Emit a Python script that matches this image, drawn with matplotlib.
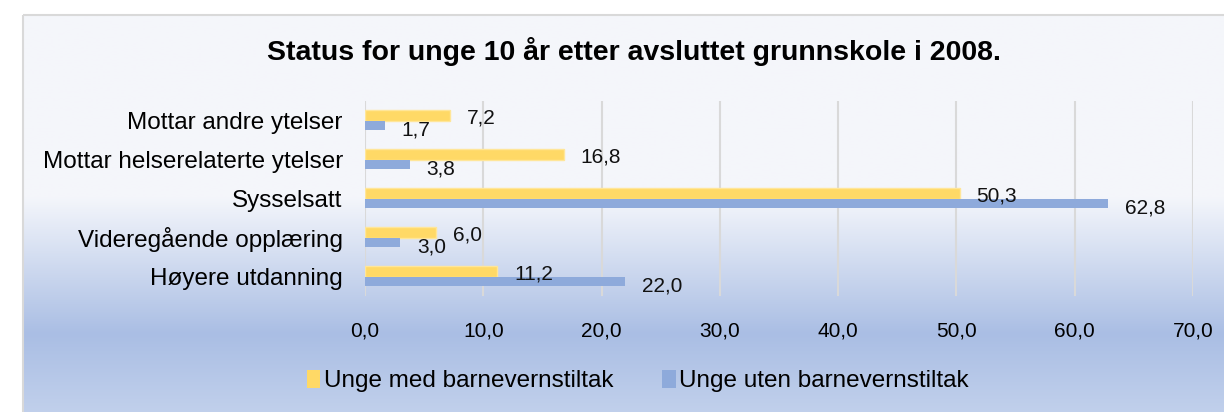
import matplotlib
matplotlib.use("Agg")
import matplotlib.pyplot as plt
import numpy as np
from matplotlib.colors import to_rgb
from matplotlib.patches import Rectangle, Patch

categories = ["Høyere utdanning", "Videregående opplæring", "Sysselsatt",
              "Mottar helserelaterte ytelser", "Mottar andre ytelser"]
med_tiltak = [11.2, 6.0, 50.3, 16.8, 7.2]
uten_tiltak = [22.0, 3.0, 62.8, 3.8, 1.7]
series_names = ["Unge med barnevernstiltak", "Unge uten barnevernstiltak"]
title = "Status for unge 10 år etter avsluttet grunnskole i 2008."
xticks = [0, 10, 20, 30, 40, 50, 60, 70]

YELLOW = "#ffd966"
BLUE = "#8eaadb"

plt.rcParams['font.family'] = ['Liberation Sans', 'DejaVu Sans']

W, H = 1224, 412
fig = plt.figure(figsize=(W / 100, H / 100), dpi=100)
fig.patch.set_facecolor("white")

# background gradient panel
bg = fig.add_axes([0, 0, 1, 1], zorder=-10)
bg.axis("off")
stops = [(15, "#f5f6fa"), (195, "#f4f6fb"), (330, "#aabee4"), (412, "#c2d1ec")]
rows = np.arange(15, H + 1)
sy = [s[0] for s in stops]
cols = np.array([to_rgb(s[1]) for s in stops])
grad = np.stack([np.interp(rows, sy, cols[:, k]) for k in range(3)], axis=-1)
grad = grad[:, None, :].repeat(2, axis=1)
bg.imshow(grad, extent=[23, W + 5, H + 5, 15], aspect="auto", interpolation="bilinear")
bg.add_patch(Rectangle((23, 15), W, H, fill=False, edgecolor="#d9d9d9", lw=1.5))
bg.set_xlim(0, W)
bg.set_ylim(H, 0)

# main axes
ax = fig.add_axes([365 / W, (H - 296) / H, (1193 - 365) / W, (296 - 101) / H])
ax.set_facecolor("none")
y = np.arange(len(categories))
h = 0.26
ax.barh(y + h / 2, med_tiltak, height=h, color=YELLOW, edgecolor="#ffe699", lw=1.0, zorder=3)
ax.barh(y - h / 2, uten_tiltak, height=h * 0.9, color=BLUE, zorder=3)

def fmt(v):
    return f"{v:.1f}".replace(".", ",")

for yi, v in zip(y, med_tiltak):
    ax.annotate(fmt(v), (v, yi + h / 2), xytext=(12, -1.8), textcoords="offset points",
                va="center", ha="left", fontsize=15, color="#111111", zorder=4)
for yi, v in zip(y, uten_tiltak):
    ax.annotate(fmt(v), (v, yi - h / 2), xytext=(12, -3.0), textcoords="offset points",
                va="center", ha="left", fontsize=15, color="#111111", zorder=4)

ax.set_xlim(0, 70)
ax.set_ylim(-0.5, 4.5)
ax.set_xticks(xticks)
ax.set_xticklabels([fmt(t) for t in xticks], fontsize=15)
ax.set_yticks(y)
ax.set_yticklabels(categories, fontsize=17.5)
ax.tick_params(axis="x", length=0, pad=18.5)
ax.tick_params(axis="y", length=0, pad=16)
for s in ax.spines.values():
    s.set_visible(False)
ax.xaxis.grid(True, color="#d9d9d9", lw=1.5, zorder=0)
ax.set_axisbelow(True)

fig.text(634 / W, 1 - 52 / H, title, ha="center", va="center", fontsize=20.5, fontweight="bold")

handles = [Patch(facecolor=YELLOW, edgecolor="none"), Patch(facecolor=BLUE, edgecolor="none")]
fig.legend(handles, series_names, loc="center", bbox_to_anchor=(638 / W, 1 - 381 / H),
           ncol=2, frameon=False, fontsize=17.5, handlelength=0.55, handleheight=0.75,
           handletextpad=0.15, columnspacing=2.0)

fig.savefig("out.png", dpi=100)
